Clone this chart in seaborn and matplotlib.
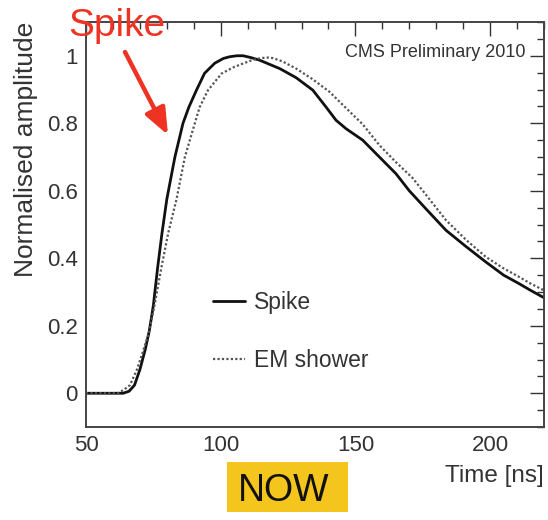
import matplotlib
matplotlib.use("Agg")
import matplotlib.pyplot as plt
import matplotlib.patches as mpatches
from matplotlib.ticker import MultipleLocator, FixedLocator, FixedFormatter
import seaborn as sns
import pandas as pd

# ---- data ----
spike_t = [50, 63.8, 66, 68, 70, 72, 73.5, 75, 76.6, 78.2, 80, 83, 86, 88.2, 91, 94, 97.8,
           101, 103.3, 106, 108.3, 111, 114.4, 118, 121.9, 128, 134.2, 139.1, 142.8,
           146.5, 152.7, 158.9, 165, 170, 176, 183.6, 191, 198.4, 205, 210.7, 215, 220]
spike_amp = [0, 0, 0.006, 0.024, 0.07, 0.13, 0.185, 0.26, 0.373, 0.474, 0.575, 0.70,
             0.80, 0.848, 0.898, 0.948, 0.978, 0.992, 0.997, 1.0, 1.0, 0.995, 0.987,
             0.975, 0.962, 0.935, 0.898, 0.848, 0.809, 0.784, 0.75, 0.70, 0.651, 0.60,
             0.548, 0.483, 0.435, 0.389, 0.35, 0.325, 0.305, 0.283]

em_t = [50, 61.8, 64, 66.3, 68.8, 71, 73.3, 75.6, 78, 80.5, 83.6, 86.7, 90.4, 92.2,
        95.3, 100.3, 104.5, 108.3, 112, 114.4, 117, 119.4, 123, 128, 134.2, 140.4,
        146.5, 152.7, 158.9, 165, 171.2, 176, 183.6, 191, 198.4, 205, 210.7, 215, 220]
em_amp = [0, 0, 0.01, 0.024, 0.068, 0.12, 0.178, 0.268, 0.373, 0.474, 0.575, 0.70,
          0.80, 0.848, 0.898, 0.947, 0.965, 0.977, 0.988, 0.992, 0.995, 0.993, 0.983,
          0.962, 0.93, 0.893, 0.845, 0.797, 0.735, 0.685, 0.638, 0.59, 0.513, 0.455,
          0.404, 0.37, 0.345, 0.325, 0.305]

series_names = ["Spike", "EM shower"]
x_ticks = [50, 100, 150, 200]
y_ticks = [0, 0.2, 0.4, 0.6, 0.8, 1.0]
y_tick_labels = ["0", "0.2", "0.4", "0.6", "0.8", "1"]

df_spike = pd.DataFrame({"time": spike_t, "amp": spike_amp, "series": series_names[0]})
df_em = pd.DataFrame({"time": em_t, "amp": em_amp, "series": series_names[1]})

# ---- style ----
sns.set_style("white")
plt.rcParams["font.family"] = ["Liberation Sans", "DejaVu Sans"]

TEXT = "#333333"
fig = plt.figure(figsize=(5.48, 5.20), dpi=100)
ax = fig.add_axes([86 / 548, 1 - 427 / 520, (544 - 86) / 548, (427 - 22) / 520])

sns.lineplot(data=df_spike, x="time", y="amp", ax=ax, color="#111111", lw=2.0,
             estimator=None, sort=False, label=series_names[0])
sns.lineplot(data=df_em, x="time", y="amp", ax=ax, color="#555555", lw=1.6,
             linestyle=(0, (1, 1)), estimator=None, sort=False, label=series_names[1])

ax.set_xlim(50, 220)
ax.set_ylim(-0.1, 1.1)
ax.xaxis.set_major_locator(FixedLocator(x_ticks))
ax.xaxis.set_minor_locator(MultipleLocator(10))
ax.yaxis.set_major_locator(FixedLocator(y_ticks))
ax.yaxis.set_major_formatter(FixedFormatter(y_tick_labels))
ax.yaxis.set_minor_locator(MultipleLocator(0.05))

ax.tick_params(which="both", direction="in", top=True, right=True, colors=TEXT,
               labelcolor=TEXT)
ax.tick_params(which="major", length=10, width=1.0, labelsize=16, pad=6)
ax.tick_params(which="minor", length=5, width=1.0)
for s in ax.spines.values():
    s.set_color("#444444")
    s.set_linewidth(1.4)

ax.set_xlabel("Time [ns]", fontsize=17.5, color=TEXT, loc="right")
ax.xaxis.set_label_coords(1.0, -0.095)
ax.xaxis.label.set_verticalalignment("top")
ax.set_ylabel("Normalised amplitude", fontsize=19, color=TEXT, loc="top")
ax.yaxis.set_label_coords(-0.104, 1.0)

leg = ax.legend(loc="upper left", bbox_to_anchor=(0.277, 0.336), frameon=False,
                fontsize=16.5, handlelength=1.4, handletextpad=0.4, labelspacing=1.55,
                borderpad=0, borderaxespad=0)
for t in leg.get_texts():
    t.set_color(TEXT)

ax.text(0.96, 0.925, "CMS Preliminary 2010", transform=ax.transAxes, ha="right",
        va="center", fontsize=13, color=TEXT)

# ---- annotations outside the frame ----
RED = "#ee3322"
fig.text(68 / 548, 1 - 26 / 520, "Spike", fontsize=28, color=RED, ha="left", va="center")
ax.annotate("", xy=(168 / 548, 1 - 135 / 520), xytext=(125 / 548, 1 - 52 / 520),
            xycoords="figure fraction", textcoords="figure fraction",
            arrowprops=dict(arrowstyle="-|>,head_length=1.6,head_width=0.65",
                            lw=3.2, color=RED, shrinkA=0, shrinkB=0),
            annotation_clip=False)

fig.patches.append(mpatches.Rectangle((227 / 548, 1 - 512 / 520), 121 / 548, 50 / 520,
                                      transform=fig.transFigure, facecolor="#f4c51c",
                                      edgecolor="none"))
fig.text(284 / 548, 1 - 491 / 520, "NOW", fontsize=27, color="#111111", ha="center",
         va="center")

fig.savefig("out.png", dpi=100)
